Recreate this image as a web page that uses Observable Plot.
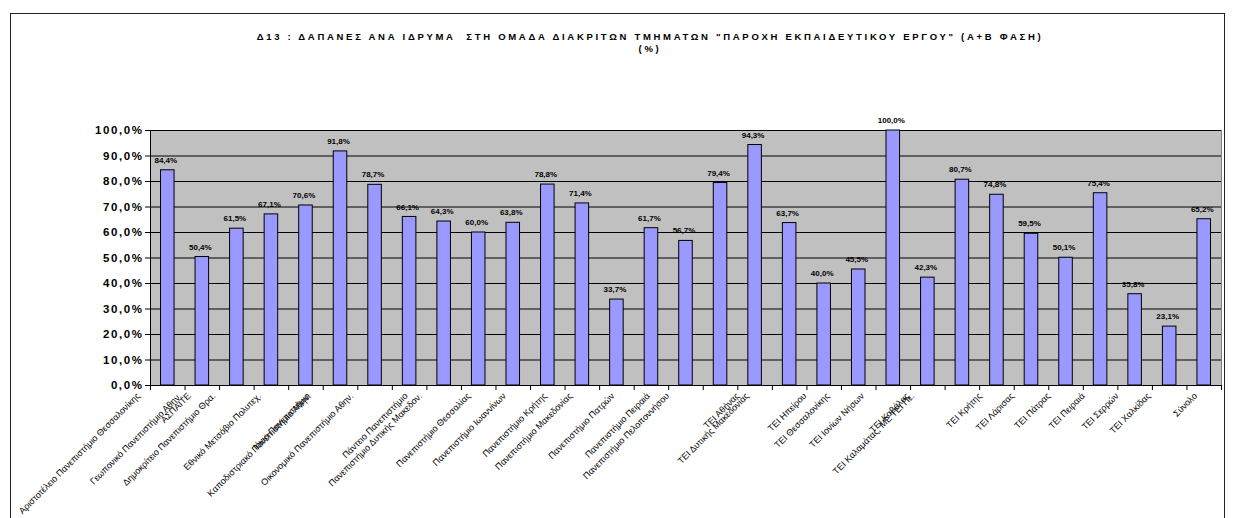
<!DOCTYPE html>
<html><head><meta charset="utf-8">
<script src="https://cdn.jsdelivr.net/npm/d3@7"></script>
<script src="https://cdn.jsdelivr.net/npm/@observablehq/plot@0.6"></script>
<style>
body{margin:0;background:#fff;font-family:"Liberation Sans",Arial,sans-serif;}
#wrap{position:relative;width:1233px;height:518px;overflow:hidden;background:#fff;}
#border{position:absolute;left:10px;top:13px;width:1215px;height:530px;border:1px solid #222;box-sizing:border-box;}
#title{position:absolute;left:0;width:1300px;top:31px;text-align:center;font-weight:bold;font-size:9.5px;letter-spacing:2.7px;line-height:12px;color:#000;}
#chart{position:absolute;left:0;top:0;}
g[aria-label="y-axis tick label"] text{font-weight:bold;font-size:11.5px;letter-spacing:1.6px;}
g[aria-label="values"] text{letter-spacing:0.9px;}
</style></head><body>
<div id="wrap"><div id="border"></div><div id="chart"></div>
<div id="title">Δ13 : ΔΑΠΑΝΕΣ ΑΝΑ ΙΔΡΥΜΑ&nbsp; ΣΤΗ ΟΜΑΔΑ ΔΙΑΚΡΙΤΩΝ ΤΜΗΜΑΤΩΝ "ΠΑΡΟΧΗ ΕΚΠΑΙΔΕΥΤΙΚΟΥ ΕΡΓΟΥ" (Α+Β ΦΑΣΗ)<br>(%)</div>
</div>
<script>
const institutions = [
  "Αριστοτέλειο Πανεπιστήμιο Θεσσαλονίκης",
  "ΑΣΠΑΙΤΕ",
  "Γεωπονικό Πανεπιστήμιο Αθην.",
  "Δημοκρίτειο Πανεπιστήμιο Θρα.",
  "Εθνικό Μετσόβιο Πολυτεχ.",
  "Ιόνιο Πανεπιστήμιο",
  "Καποδιστριακό Πανεπιστήμιο Αθην.",
  "Οικονομικό Πανεπιστήμιο Αθην.",
  "Πάντειο Πανεπιστήμιο",
  "Πανεπιστήμιο Δυτικής Μακεδον.",
  "Πανεπιστήμιο Θεσσαλίας",
  "Πανεπιστήμιο Ιωαννίνων",
  "Πανεπιστήμιο Κρήτης",
  "Πανεπιστήμιο Μακεδονίας",
  "Πανεπιστήμιο Πατρών",
  "Πανεπιστήμιο Πειραιά",
  "Πανεπιστήμιο Πελοποννήσου",
  "ΤΕΙ Αθήνας",
  "ΤΕΙ Δυτικής Μακεδονίας",
  "ΤΕΙ Ηπείρου",
  "ΤΕΙ Θεσσαλονίκης",
  "ΤΕΙ Ιονίων Νήσων",
  "ΤΕΙ Καβάλας",
  "ΤΕΙ Καλαμάτας, ΜΕ ΤΕΙ Πε.",
  "ΤΕΙ Κρήτης",
  "ΤΕΙ Λάρισας",
  "ΤΕΙ Πάτρας",
  "ΤΕΙ Πειραιά",
  "ΤΕΙ Σερρών",
  "ΤΕΙ Χαλκίδας",
  "Σύνολο"
];
const values = [84.4, 50.4, 61.5, 67.1, 70.6, 91.8, 78.7, 66.1, 64.3, 60.0, 63.8, 78.8, 71.4, 33.7, 61.7, 56.7, 79.4, 94.3, 63.7, 40.0, 45.5, 100.0, 42.3, 80.7, 74.8, 59.5, 50.1, 75.4, 35.8, 23.1, 65.2];
const yTicks = [0, 10, 20, 30, 40, 50, 60, 70, 80, 90, 100];

const data = institutions.map((name, i) => ({name, value: values[i]}));
const fmt = v => v.toFixed(1).replace(".", ",") + "%";

const W = 1233, H = 518, ML = 150, MR = 12, MT = 130, MB = 133;
const bw = (W - ML - MR) / institutions.length;

const ctx = document.createElement("canvas").getContext("2d");
ctx.font = "9px 'Liberation Sans'";
const labelMarks = institutions.map((name, i) => {
  const w = ctx.measureText(name).width;
  let dx = -20 - 0.5 * (w - 52);
  const cx = ML + bw * (i + 0.5);
  const minEnd = 20 + w * 0.707;
  if (cx + dx < minEnd) dx = minEnd - cx;
  return Plot.text([name], {x: d => d, y: 0, text: d => d, rotate: -45, textAnchor: "end", dx, dy: 9, fontSize: 9, ariaLabel: "xlabel"});
});

const chart = Plot.plot({
  width: W, height: H,
  marginLeft: ML, marginRight: MR, marginTop: MT, marginBottom: MB,
  style: {fontFamily: "'Liberation Sans', Arial, sans-serif", background: "transparent", color: "#000"},
  x: {domain: institutions, padding: 0, round: false, axis: null},
  y: {domain: [0, 100], axis: null},
  marks: [
    Plot.frame({fill: "#C0C0C0", stroke: "#808080"}),
    Plot.ruleY(yTicks.filter(d => d > 0), {stroke: "#000", strokeWidth: 1}),
    Plot.barY(data, {x: "name", y: "value", fill: "#9999FF", stroke: "#000", strokeWidth: 1, insetLeft: 10.5, insetRight: 10.5}),
    Plot.text(data, {x: "name", y: "value", text: d => fmt(d.value), dy: -10, dx: -2, fontWeight: "bold", fontSize: 8, ariaLabel: "values"}),
    Plot.ruleY([0], {stroke: "#000", strokeWidth: 1.2}),
    Plot.ruleX([institutions[0]], {x: d => d, dx: -bw / 2, y1: 0, y2: 100, stroke: "#000"}),
    Plot.ruleX(institutions, {x: d => d, dx: -bw / 2, y1: 0, y2: -2, stroke: "#000"}),
    Plot.ruleX([institutions[institutions.length - 1]], {x: d => d, dx: bw / 2, y1: 0, y2: -2, stroke: "#000"}),
    Plot.axisY(yTicks, {tickSize: 5, tickPadding: 2, tickFormat: fmt, anchor: "left", label: null, fontWeight: "bold"}),
    ...labelMarks
  ]
});
document.getElementById("chart").appendChild(chart);
</script>
</body></html>
